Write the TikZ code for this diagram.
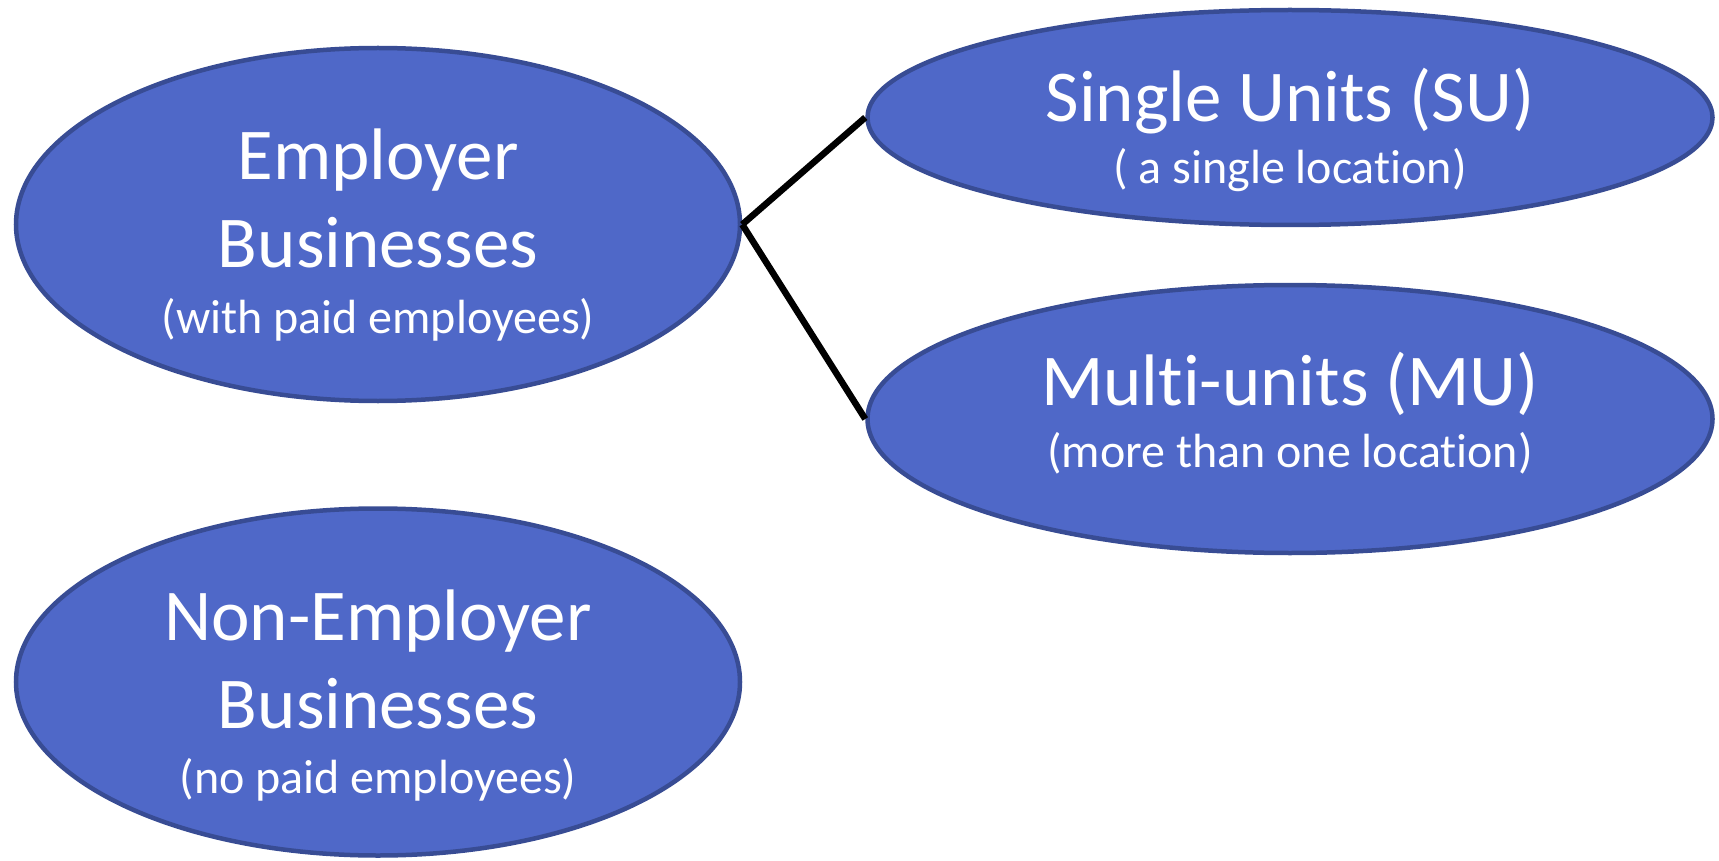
\documentclass[tikz,border=0pt]{standalone}
\usepackage{fontspec}
\setmainfont{Carlito}[RawFeature={-liga;-clig;-calt;-dlig}]
\usetikzlibrary{shapes.geometric}
\definecolor{ellfill}{RGB}{79,104,200}
\definecolor{ellline}{RGB}{56,76,148}
\newcommand{\nolig}{\kern0pt{}}
\begin{document}
\begin{tikzpicture}[x=1pt,y=-1pt,
  bubble/.style={ellipse,draw=ellline,fill=ellfill,line width=4.5pt,inner sep=0pt},
  big/.style={anchor=base,text=white,inner sep=0pt,font=\fontsize{73}{88}\selectfont},
  small/.style={anchor=base,text=white,inner sep=0pt,font=\fontsize{48}{58}\selectfont},
  link/.style={line width=6.5pt,black}]
\useasboundingbox (0,0) rectangle (1719,861);
\node[bubble,minimum width=724pt,minimum height=353pt] (emp) at (378,224.5) {};
\node[bubble,minimum width=724pt,minimum height=347pt] (nonemp) at (378,682) {};
\node[bubble,minimum width=845pt,minimum height=215pt] (su) at (1290,117.5) {};
\node[bubble,minimum width=845pt,minimum height=268pt] (mu) at (1290,419) {};
\draw[link] (emp.east) -- (su.west);
\draw[link] (emp.east) -- (mu.west);
\node[big] (emp1) at (378,180) {Employer};
\node[big] (emp2) at (378,268) {Businesses};
\node[small] (emp3) at (378,333) {(with paid employees)};
\node[big] (ne1) at (378,640) {Non-Employer};
\node[big] (ne2) at (378,728) {Businesses};
\node[small] (ne3) at (378,793) {(no paid employees)};
\node[big] (su1) at (1290,122) {Single Units (SU)};
\node[small] (su2) at (1290,184) {( a single locat\nolig ion)};
\node[big] (mu1) at (1290,405) {Mult\nolig i-units (MU)};
\node[small] (mu2) at (1290,467) {(more than one locat\nolig ion)};
\end{tikzpicture}
\end{document}
